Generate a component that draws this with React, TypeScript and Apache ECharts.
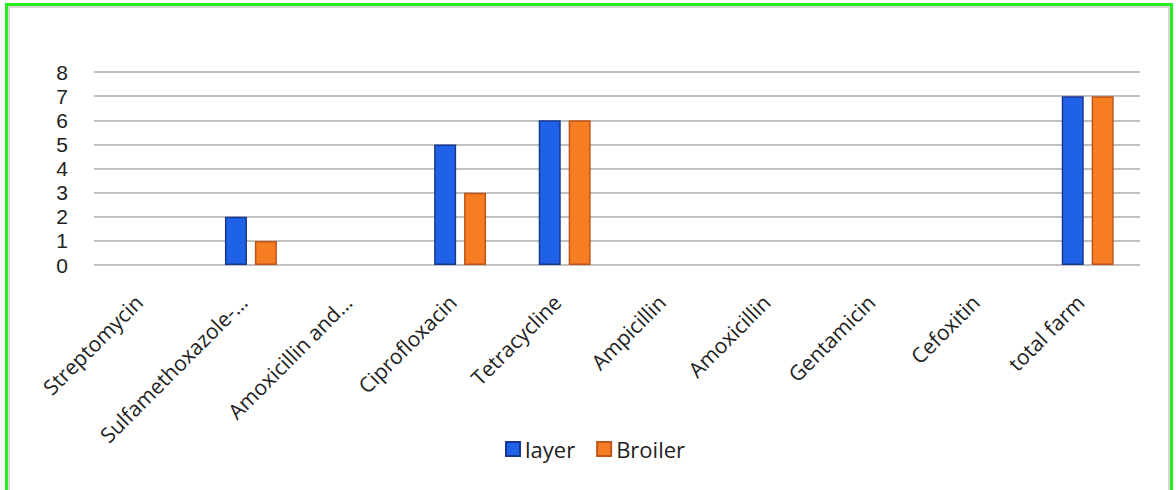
import React, { useEffect, useRef } from "react";
import * as echarts from "echarts";

const categories = [
  "Streptomycin",
  "Sulfamethoxazole-…",
  "Amoxicillin and…",
  "Ciprofloxacin",
  "Tetracycline",
  "Ampicillin",
  "Amoxicillin",
  "Gentamicin",
  "Cefoxitin",
  "total farm",
];
const layerValues = [0, 2, 0, 5, 6, 0, 0, 0, 0, 7];
const broilerValues = [0, 1, 0, 3, 6, 0, 0, 0, 0, 7];
const yTicks = [0, 8, 1];

export default function App() {
  const ref = useRef<HTMLDivElement>(null);
  useEffect(() => {
    const chart = echarts.init(ref.current!, null, { renderer: "svg" });
    const font = "'Open Sans', sans-serif";
    const toItems = (vals: number[]) =>
      vals.map((v) => (v === 0 ? { value: v, itemStyle: { borderWidth: 0, opacity: 0 } } : v));
    chart.setOption({
      animation: false,
      grid: { left: 94, right: 36, top: 72, bottom: 225, containLabel: false },
      legend: {
        top: 432,
        left: 500,
        itemWidth: 14,
        itemHeight: 14,
        itemGap: 21,
        icon: "rect",
        textStyle: { fontFamily: font, fontSize: 22, color: "#222", lineHeight: 24 },
        data: ["layer", "Broiler"],
      },
      xAxis: {
        type: "category",
        data: categories,
        axisLine: { show: false },
        axisTick: { show: false },
        axisLabel: {
          rotate: 45,
          interval: 0,
          margin: 41,
          verticalAlign: "bottom",
          fontFamily: font,
          fontSize: 21,
          color: "#222",
        },
      },
      yAxis: {
        type: "value",
        min: yTicks[0],
        max: yTicks[1],
        interval: yTicks[2],
        axisLine: { show: false },
        axisTick: { show: false },
        splitLine: { lineStyle: { color: "#c0c0c0", width: 2 } },
        axisLabel: {
          fontFamily: "'Liberation Sans', Arial, sans-serif",
          fontSize: 21,
          color: "#222",
          margin: 26,
        },
      },
      series: [
        {
          name: "layer",
          type: "bar",
          data: toItems(layerValues),
          barWidth: 22,
          barGap: "36%",
          itemStyle: { color: "#1f62e8", borderColor: "#17388f", borderWidth: 1.5 },
        },
        {
          name: "Broiler",
          type: "bar",
          data: toItems(broilerValues),
          barWidth: 22,
          itemStyle: { color: "#f77d23", borderColor: "#c0551a", borderWidth: 1.5 },
        },
      ],
    });
    return () => chart.dispose();
  }, []);
  return (
    <div style={{ position: "fixed", left: 0, top: 0, width: 1176, height: 490, background: "#fff" }}>
      <div
        style={{
          position: "absolute",
          left: 5,
          top: 3,
          width: 1168,
          height: 492,
          boxSizing: "border-box",
          border: "3px solid #22ee22",
        }}
      />
      <div
        style={{
          position: "absolute",
          left: 8,
          top: 6,
          width: 1162,
          height: 486,
          boxSizing: "border-box",
          border: "2px solid #d8d8d8",
        }}
      />
      <div ref={ref} style={{ position: "absolute", left: 0, top: 0, width: 1176, height: 490 }} />
    </div>
  );
}
